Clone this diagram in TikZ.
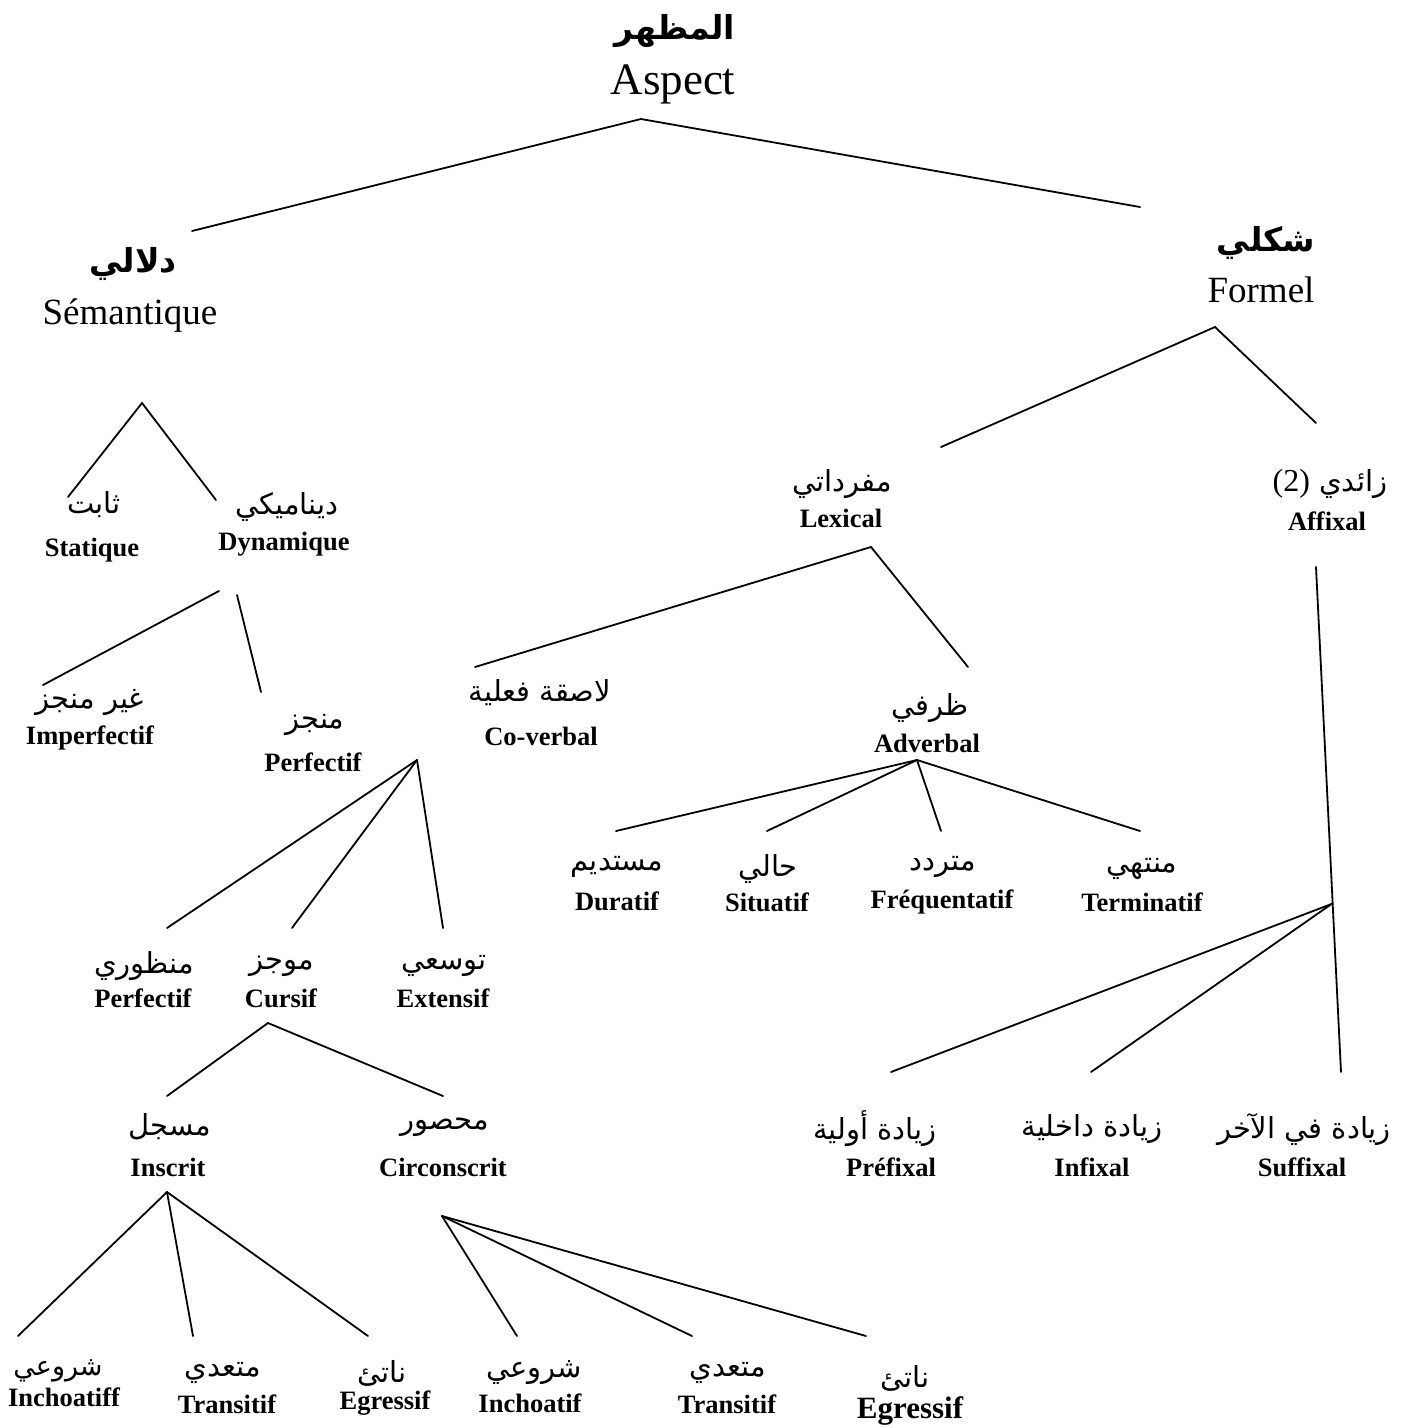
\documentclass[tikz,border=0pt]{standalone}
\usepackage{fontspec}
\setmainfont{Liberation Serif}
\newfontfamily\arabicfont[Script=Arabic]{DejaVu Sans}
\TeXXeTstate=1
\begin{document}
\begin{tikzpicture}[x=1pt,y=-1pt]
\tikzset{
  arl/.style={inner sep=0pt, font=\fontsize{29}{33}\selectfont\arabicfont},
  arbig/.style={inner sep=0pt, font=\fontsize{33}{37}\selectfont\arabicfont\bfseries},
  frb/.style={inner sep=0pt, font=\fontsize{26.5}{30}\selectfont\bfseries},
  frl/.style={inner sep=0pt, font=\fontsize{37}{40}\selectfont},
  edge/.style={line width=1.8pt, line cap=round}
}
\fill[white] (0,0) rectangle (1415,1428);
\useasboundingbox (0,0) rectangle (1415,1428);

% ---------- top ----------
\node[arbig] (arAspect) at (675,31) {\beginR المظهر\endR};
\node[inner sep=0pt, font=\fontsize{45}{48}\selectfont] (frAspect) at (673,84) {Aspect};
\coordinate (a0) at (641,119);
\coordinate (a1) at (192,231);
\coordinate (a2) at (1140,207);
\draw[edge] (a1) -- (a0) -- (a2);

\node[arbig] (arSem) at (133,264) {\beginR دلالي\endR};
\node[frl] (frSem) at (130,316) {Sémantique};
\node[arbig] (arFor) at (1266,243) {\beginR شكلي\endR};
\node[frl] (frFor) at (1261,290) {Formel};

% ---------- semantic ----------
\coordinate (s0) at (142,403);
\coordinate (s1) at (68,497);
\coordinate (s2) at (216,500);
\draw[edge] (s1) -- (s0) -- (s2);
\node[arl] (arStat) at (94,505) {\beginR ثابت\endR};
\node[frb] (frStat) at (92,550) {Statique};
\node[arl] (arDyn) at (287,507) {\beginR ديناميكي\endR};
\node[frb] (frDyn) at (284,544) {Dynamique};

\coordinate (d1) at (219,591);
\coordinate (d2) at (43,685);
\coordinate (d3) at (237,595);
\coordinate (d4) at (261,692);
\draw[edge] (d1) -- (d2);
\draw[edge] (d3) -- (d4);
\node[arl] (arImp) at (90,702) {\beginR غير منجز\endR};
\node[frb] (frImp) at (90,738) {Imperfectif};
\node[arl] (arPerf) at (315,725) {\beginR منجز\endR};
\node[frb] (frPerf) at (313,762) {Perfectif};

\coordinate (p0) at (417,760);
\coordinate (p1) at (167,928);
\coordinate (p2) at (292,928);
\coordinate (p3) at (443,928);
\draw[edge] (p0) -- (p1);
\draw[edge] (p0) -- (p2);
\draw[edge] (p0) -- (p3);
\node[arl] (arMan) at (144,966) {\beginR منظوري\endR};
\node[frb] (frMan) at (143,998) {Perfectif};
\node[arl] (arCur) at (282,966) {\beginR موجز\endR};
\node[frb] (frCur) at (281,998) {Cursif};
\node[arl] (arExt) at (444,966) {\beginR توسعي\endR};
\node[frb] (frExt) at (443,998) {Extensif};

\coordinate (c0) at (268,1023);
\coordinate (c1) at (167,1096);
\coordinate (c2) at (443,1096);
\draw[edge] (c1) -- (c0) -- (c2);
\node[arl] (arIns) at (170,1127) {\beginR مسجل\endR};
\node[frb] (frIns) at (168,1167) {Inscrit};
\node[arl] (arCir) at (445,1127) {\beginR محصور\endR};
\node[frb] (frCir) at (443,1167) {Circonscrit};

\coordinate (i0) at (167,1192);
\coordinate (i1) at (18,1336);
\coordinate (i2) at (193,1336);
\coordinate (i3) at (368,1336);
\draw[edge] (i0) -- (i1);
\draw[edge] (i0) -- (i2);
\draw[edge] (i0) -- (i3);
\coordinate (k0) at (442,1216);
\coordinate (k1) at (517,1336);
\coordinate (k2) at (692,1336);
\coordinate (k3) at (866,1336);
\draw[edge] (k0) -- (k1);
\draw[edge] (k0) -- (k2);
\draw[edge] (k0) -- (k3);

\node[arl, font=\fontsize{27}{30}\selectfont\arabicfont] (arInch1) at (58,1371) {\beginR شروعي\endR};
\node[frb] (frInch1) at (64,1397) {Inchoatiff};
\node[arl] (arTra1) at (223,1373) {\beginR متعدي\endR};
\node[frb] (frTra1) at (227,1404) {Transitif};
\node[arl] (arEgr1) at (382,1373) {\beginR ناتئ\endR};
\node[frb] (frEgr1) at (385,1403) {Egressif};
\node[arl] (arInch2) at (534,1373) {\beginR شروعي\endR};
\node[frb] (frInch2) at (530,1403) {Inchoatif};
\node[arl] (arTra2) at (728,1373) {\beginR متعدي\endR};
\node[frb] (frTra2) at (727,1404) {Transitif};
\node[arl] (arEgr2) at (905,1378) {\beginR ناتئ\endR};
\node[frb, font=\fontsize{31}{34}\selectfont\bfseries] (frEgr2) at (910,1411) {Egressif};

% ---------- formal ----------
\coordinate (f0) at (1215,327);
\coordinate (f1) at (941,447);
\coordinate (f2) at (1316,423);
\draw[edge] (f1) -- (f0) -- (f2);
\node[arl] (arLex) at (842,484) {\beginR مفرداتي\endR};
\node[frb] (frLex) at (841,518) {Lexical};
\node[arl] (arAff) at (1330,484) {{\fontsize{32}{36}\selectfont\rmfamily (2)} \beginR زائدي\endR};
\node[frb] (frAff) at (1327,521) {Affixal};

\coordinate (l0) at (871,547);
\coordinate (l1) at (475,667);
\coordinate (l2) at (968,667);
\draw[edge] (l1) -- (l0) -- (l2);
\node[arl] (arCov) at (540,693) {\beginR لاصقة فعلية\endR};
\node[frb] (frCov) at (541,736) {Co-verbal};
\node[arl] (arAdv) at (930,708) {\beginR ظرفي\endR};
\node[frb] (frAdv) at (927,743) {Adverbal};

\coordinate (v0) at (917,760);
\coordinate (v1) at (616,831);
\coordinate (v2) at (767,831);
\coordinate (v3) at (941,831);
\coordinate (v4) at (1140,831);
\draw[edge] (v0) -- (v1);
\draw[edge] (v0) -- (v2);
\draw[edge] (v0) -- (v3);
\draw[edge] (v0) -- (v4);
\node[arl] (arDur) at (617,867) {\beginR مستديم\endR};
\node[frb] (frDur) at (617,901) {Duratif};
\node[arl] (arSit) at (768,869) {\beginR حالي\endR};
\node[frb] (frSit) at (767,902) {Situatif};
\node[arl] (arFre) at (943,867) {\beginR متردد\endR};
\node[frb] (frFre) at (942,902) {Fréquentatif};
\node[arl] (arTer) at (1142,869) {\beginR منتهي\endR};
\node[frb] (frTer) at (1142,902) {Terminatif};

\coordinate (x0) at (1316,567);
\coordinate (x4) at (1341,1072);
\coordinate (xb) at (1331.5,904);
\coordinate (x1) at (891,1072);
\coordinate (x2) at (1091,1072);
\draw[edge] (x0) -- (x4);
\draw[edge] (xb) -- (x1);
\draw[edge] (xb) -- (x2);
\node[arl] (arPre) at (875,1129) {\beginR زيادة أولية\endR};
\node[frb] (frPre) at (891,1167) {Préfixal};
\node[arl] (arInf) at (1092,1129) {\beginR زيادة داخلية\endR};
\node[frb] (frInf) at (1092,1167) {Infixal};
\node[arl] (arSuf) at (1304,1129) {\beginR زيادة في الآخر\endR};
\node[frb] (frSuf) at (1302,1167) {Suffixal};
\end{tikzpicture}
\end{document}
